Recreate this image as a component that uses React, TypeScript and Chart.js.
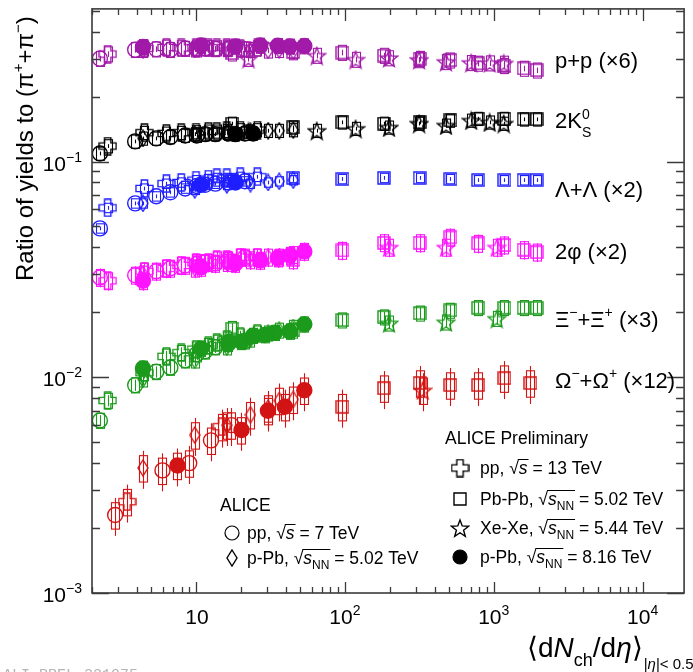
import React, { useEffect, useRef } from 'react';
import { Chart, registerables } from 'chart.js';
Chart.register(...registerables);

const FONT = '"Liberation Sans", Arial, Helvetica, sans-serif';

// ---------- multiplicity <dNch/deta> per collision system ----------
const ppSevenMult = [2.26, 3.9, 5.4, 6.72, 8.45, 10.1, 11.5, 13.5, 16.5, 21.3];
const ppSevenMultOmega = [2.86, 5.95, 9.0, 12.6, 17.3];
const ppThirteenMult = [2.55, 4.5, 6.32, 7.95, 10.0, 12.1, 13.8, 16.1, 19.8, 25.8];
const ppThirteenMultOmega = [3.44, 14.9];
const pPbFiveMult = [4.4, 9.8, 16.1, 23.2, 30.5, 36.2, 45.0];
const pPbEightMult = [4.4, 10.8, 18.4, 27.0, 35.4, 42.6, 53.4];
const pPbEightMultK = [18.4, 24.2];
const pPbEightMultLambda = [10.8, 18.4];
const pPbEightMultXi = [4.4, 10.8, 16.5, 20.2, 24.2, 29.0, 33.8, 42.6, 53.4];
const pPbEightMultOmega = [7.5, 20.2, 30.4, 39.5, 53.4];
const pbPbMult = [17.5, 44.9, 96.3, 183, 318, 512, 786, 1180, 1587, 1943];
const pbPbMultOmega = [96.3, 183, 318, 512, 786, 1180, 1764];
const xeXeMult = [22.5, 64.7, 118, 198, 315, 478, 706, 939, 1167];
const xeXeMultPhiXi = [198, 478, 1047];
const xeXeMultOmega = [333];

// ---------- ratios to (pi+ + pi-) (already scaled) ----------
const protonPP7 = [0.3, 0.33, 0.332, 0.33, 0.334, 0.332, 0.335, 0.333, 0.334, 0.332];
const protonPP13 = [0.315, 0.335, 0.338, 0.336, 0.338, 0.337, 0.336, 0.338, 0.335, 0.336];
const protonPPb5 = [0.33, 0.332, 0.333, 0.33, 0.328, 0.33, 0.326];
const protonPPb8 = [0.34, 0.345, 0.342, 0.345, 0.344, 0.342, 0.343];
const protonPbPb = [0.318, 0.322, 0.32, 0.31, 0.3, 0.295, 0.285, 0.278, 0.27, 0.265];
const protonXeXe = [0.3, 0.31, 0.297, 0.302, 0.296, 0.29, 0.287, 0.286, 0.285];

const kaonPP7 = [0.109, 0.124, 0.128, 0.13, 0.132, 0.132, 0.134, 0.134, 0.135, 0.135];
const kaonPP13 = [0.118, 0.136, 0.135, 0.136, 0.137, 0.138, 0.138, 0.139, 0.14, 0.14];
const kaonPPb5 = [0.128, 0.134, 0.136, 0.138, 0.139, 0.139, 0.14];
const kaonPPb8 = [0.134, 0.135];
const kaonPbPb = [0.15, 0.144, 0.152, 0.15, 0.152, 0.155, 0.158, 0.158, 0.157, 0.157];
const kaonXeXe = [0.138, 0.139, 0.142, 0.144, 0.15, 0.147, 0.155, 0.152, 0.15];

const lambdaPP7 = [0.049, 0.064, 0.069, 0.072, 0.075, 0.077, 0.078, 0.079, 0.08, 0.081];
const lambdaPP13 = [0.061, 0.075, 0.079, 0.08, 0.082, 0.083, 0.084, 0.084, 0.085, 0.085];
const lambdaPPb5 = [0.064, 0.074, 0.078, 0.079, 0.08, 0.081, 0.082];
const lambdaPPb8 = [0.078, 0.08];
const lambdaPbPb = [0.082, 0.084, 0.083, 0.084, 0.084, 0.083, 0.082, 0.082, 0.082, 0.082];

const phiPP7 = [0.029, 0.0297, 0.031, 0.032, 0.033, 0.0335, 0.034, 0.0337, 0.035, 0.036];
const phiPP13 = [0.028, 0.031, 0.032, 0.033, 0.034, 0.034, 0.035, 0.035, 0.036, 0.036];
const phiPPb5 = [0.03, 0.032, 0.034, 0.035, 0.036, 0.036, 0.037];
const phiPPb8 = [0.028, 0.0323, 0.0337, 0.0348, 0.0357, 0.0367, 0.0383];
const phiPbPb = [0.034, 0.035, 0.0387, 0.042, 0.042, 0.0445, 0.0417, 0.041, 0.039, 0.038];
const phiXeXe = [0.04, 0.04, 0.04];

const xiPP7 = [0.0063, 0.0092, 0.0106, 0.0111, 0.012, 0.0128, 0.0132, 0.0138, 0.0143, 0.0147];
const xiPP13 = [0.0078, 0.0105, 0.0125, 0.013, 0.0135, 0.014, 0.0145, 0.015, 0.0155, 0.016];
const xiPPb5 = [0.0098, 0.012, 0.0138, 0.015, 0.016, 0.0165, 0.017];
const xiPPb8 = [0.011, 0.0136, 0.0145, 0.0146, 0.0156, 0.0157, 0.0161, 0.0163, 0.0176];
const xiPbPb = [0.0168, 0.0165, 0.0184, 0.019, 0.0198, 0.0204, 0.021, 0.021, 0.021, 0.021];
const xiXeXe = [0.0178, 0.018, 0.0187];

const omegaPP7 = [0.0023, 0.0037, 0.004, 0.0051, 0.006];
const omegaPP13 = [0.00265, 0.0059];
const omegaPPb5 = [0.0038, 0.0054, 0.006, 0.0067, 0.0072, 0.0078, 0.0079];
const omegaPPb8 = [0.0039, 0.0057, 0.007, 0.0073, 0.0087];
const omegaPbPb = [0.0073, 0.0089, 0.0094, 0.0092, 0.0092, 0.0099, 0.0094];
const omegaXeXe = [0.0087];

// relative uncertainties per species (systematic box, statistical bar)
const sysFraction = [0.08, 0.07, 0.05, 0.09, 0.08, 0.14];
const statFraction = [0.03, 0.02, 0.02, 0.1, 0.06, 0.2];

const speciesColors = ['#a11aa8', '#000000', '#1f1fff', '#ff14ff', '#1c9a1c', '#d31414'];
const systemShapes = ['circle', 'diamond', 'cross', 'square', 'star', 'filled'];

const xTickValues = [10, 100, 1000, 10000];
const yTickValues = [0.001, 0.01, 0.1];

type Pair = [number[], number[]] | null;
const table: Pair[][] = [
  [[ppSevenMult, protonPP7], [pPbFiveMult, protonPPb5], [ppThirteenMult, protonPP13], [pbPbMult, protonPbPb], [xeXeMult, protonXeXe], [pPbEightMult, protonPPb8]],
  [[ppSevenMult, kaonPP7], [pPbFiveMult, kaonPPb5], [ppThirteenMult, kaonPP13], [pbPbMult, kaonPbPb], [xeXeMult, kaonXeXe], [pPbEightMultK, kaonPPb8]],
  [[ppSevenMult, lambdaPP7], [pPbFiveMult, lambdaPPb5], [ppThirteenMult, lambdaPP13], [pbPbMult, lambdaPbPb], null, [pPbEightMultLambda, lambdaPPb8]],
  [[ppSevenMult, phiPP7], [pPbFiveMult, phiPPb5], [ppThirteenMult, phiPP13], [pbPbMult, phiPbPb], [xeXeMultPhiXi, phiXeXe], [pPbEightMult, phiPPb8]],
  [[ppSevenMult, xiPP7], [pPbFiveMult, xiPPb5], [ppThirteenMult, xiPP13], [pbPbMult, xiPbPb], [xeXeMultPhiXi, xiXeXe], [pPbEightMultXi, xiPPb8]],
  [[ppSevenMultOmega, omegaPP7], [pPbFiveMult, omegaPPb5], [ppThirteenMultOmega, omegaPP13], [pbPbMultOmega, omegaPbPb], [xeXeMultOmega, omegaXeXe], [pPbEightMultOmega, omegaPPb8]],
];

const MARKER_DIMS: Record<string, [number, number]> = {
  cross: [19, 19], star: [20, 20], diamond: [12, 18], square: [14, 14],
};

function makeMarker(shape: string, color: string): HTMLCanvasElement {
  const [w, h] = MARKER_DIMS[shape];
  const c = document.createElement('canvas');
  c.width = w; c.height = h;
  const g = c.getContext('2d')!;
  g.strokeStyle = color;
  g.lineWidth = 1.4;
  const cx = w / 2, cy = h / 2;
  g.beginPath();
  if (shape === 'square') {
    g.rect(1, 1, w - 2, h - 2);
  } else if (shape === 'diamond') {
    g.moveTo(cx, 1); g.lineTo(w - 1, cy); g.lineTo(cx, h - 1); g.lineTo(1, cy); g.closePath();
  } else if (shape === 'cross') {
    const r = (w - 2) / 2, a = r * 0.37;
    const pts = [[-a, -r], [a, -r], [a, -a], [r, -a], [r, a], [a, a], [a, r], [-a, r], [-a, a], [-r, a], [-r, -a], [-a, -a]];
    pts.forEach(([px, py], i) => (i ? g.lineTo(cx + px, cy + py) : g.moveTo(cx + px, cy + py)));
    g.closePath();
  } else if (shape === 'star') {
    const R = (w - 2) / 2, r = R * 0.42;
    for (let i = 0; i < 10; i++) {
      const ang = -Math.PI / 2 + (i * Math.PI) / 5;
      const rr = i % 2 ? r : R;
      const px = cx + rr * Math.cos(ang), py = cy + 1 + rr * Math.sin(ang);
      i ? g.lineTo(px, py) : g.moveTo(px, py);
    }
    g.closePath();
  }
  g.stroke();
  return c;
}

type Part = { t: string; sup?: boolean; sub?: boolean; it?: boolean; stay?: boolean; over?: boolean };

function drawParts(ctx: CanvasRenderingContext2D, x: number, y: number, parts: Part[], size: number, scriptSize: number, supDy: number, subDy: number, measureOnly = false) {
  let cx = x;
  for (const p of parts) {
    const fs = p.sup || p.sub ? scriptSize : size;
    ctx.font = `${p.it ? 'italic ' : ''}${fs}px ${FONT}`;
    const dy = p.sup ? -supDy : p.sub ? subDy : 0;
    const w = ctx.measureText(p.t).width;
    if (!measureOnly) {
      ctx.fillText(p.t, cx, y + dy);
      if (p.over) {
        ctx.save();
        ctx.lineWidth = 1;
        ctx.beginPath();
        const oy = Math.round(y - size * 0.86) + 0.5;
        ctx.moveTo(cx - 1, oy); ctx.lineTo(cx + w + 1, oy); ctx.stroke();
        ctx.restore();
      }
    }
    if (!p.stay) cx += w;
  }
  return cx - x;
}

function sqrtS(nn: boolean): Part[] {
  const p: Part[] = [{ t: '√' }, { t: 's', it: true, over: true }];
  if (nn) p.push({ t: 'NN', sub: true, over: true });
  return p;
}

const App: React.FC = () => {
  const ref = useRef<HTMLCanvasElement>(null);
  useEffect(() => {
    document.body.style.margin = '0';
    const canvas = ref.current!;
    const markers: Record<string, HTMLCanvasElement> = {};
    const getMarker = (shape: string, color: string) => {
      const k = shape + color;
      if (!markers[k]) markers[k] = makeMarker(shape, color);
      return markers[k];
    };

    const datasets: any[] = [];
    table.forEach((row, si) => {
      const color = speciesColors[si];
      row.forEach((pair, k) => {
        if (!pair) return;
        const [xs, ys] = pair;
        const shape = systemShapes[k];
        const ds: any = {
          label: `s${si}-${shape}`,
          data: xs.map((x, i) => ({ x, y: ys[i] })),
          showLine: false,
          borderColor: color,
          borderWidth: 1.4,
          sysFrac: sysFraction[si],
          statFrac: statFraction[si],
        };
        if (shape === 'circle') {
          Object.assign(ds, { pointStyle: 'circle', pointRadius: 7.5, backgroundColor: 'rgba(0,0,0,0)' });
        } else if (shape === 'filled') {
          Object.assign(ds, { pointStyle: 'circle', pointRadius: 7.5, backgroundColor: color });
        } else {
          Object.assign(ds, { pointStyle: getMarker(shape, color), pointRadius: 7, backgroundColor: color });
        }
        datasets.push(ds);
      });
    });

    const rootPlugin = {
      id: 'rootStyle',
      beforeDatasetsDraw(chart: any) {
        const ctx = chart.ctx as CanvasRenderingContext2D;
        const ys = chart.scales.y;
        chart.data.datasets.forEach((ds: any, i: number) => {
          const meta = chart.getDatasetMeta(i);
          ctx.save();
          ctx.strokeStyle = ds.borderColor;
          ctx.lineWidth = 1.1;
          meta.data.forEach((el: any, j: number) => {
            const v = ds.data[j].y;
            const x = Math.round(el.x) + 0.5;
            const top = ys.getPixelForValue(v * (1 + ds.sysFrac));
            const bot = ys.getPixelForValue(v * (1 - ds.sysFrac));
            ctx.strokeRect(x - 4, top, 8, bot - top);
            const st = ys.getPixelForValue(v * (1 + ds.statFrac));
            const sb = ys.getPixelForValue(v * (1 - ds.statFrac));
            ctx.beginPath(); ctx.moveTo(x, st); ctx.lineTo(x, sb); ctx.stroke();
          });
          ctx.restore();
        });
      },
      afterDraw(chart: any) {
        const ctx = chart.ctx as CanvasRenderingContext2D;
        const { left, right, top, bottom } = chart.chartArea;
        const xs = chart.scales.x, ys = chart.scales.y;
        ctx.save();
        // frame
        ctx.strokeStyle = '#3a3a3a';
        ctx.lineWidth = 1.6;
        ctx.strokeRect(left, top, right - left, bottom - top);
        ctx.lineWidth = 1.3;
        ctx.beginPath();
        for (let d = 0; d <= 4; d++) {
          for (let m = 1; m <= 9; m++) {
            const v = m * Math.pow(10, d);
            if (v < xs.min || v > xs.max) continue;
            const px = Math.round(xs.getPixelForValue(v)) + 0.5;
            const lb = m === 1 ? 11 : 6, lt = m === 1 ? 12 : 6;
            ctx.moveTo(px, bottom); ctx.lineTo(px, bottom - lb);
            ctx.moveTo(px, top); ctx.lineTo(px, top + lt);
          }
        }
        for (let d = -3; d <= -1; d++) {
          for (let m = 1; m <= 9; m++) {
            const v = m * Math.pow(10, d);
            if (v < ys.min * 0.999 || v > ys.max) continue;
            const py = Math.round(ys.getPixelForValue(v)) + 0.5;
            const l = m === 1 ? 17 : 8;
            ctx.moveTo(left, py); ctx.lineTo(left + l, py);
            ctx.moveTo(right, py); ctx.lineTo(right - l, py);
          }
        }
        ctx.stroke();

        ctx.fillStyle = '#000';
        ctx.strokeStyle = '#000';
        ctx.textBaseline = 'alphabetic';
        ctx.textAlign = 'left';
        // x tick labels
        xTickValues.forEach((v) => {
          const e = Math.round(Math.log10(v));
          const parts: Part[] = e === 1 ? [{ t: '10' }] : [{ t: '10' }, { t: String(e), sup: true }];
          const w = drawParts(ctx, 0, 0, parts, 21, 14, 9, 0, true);
          const px = xs.getPixelForValue(v);
          drawParts(ctx, px - w / 2 + (e === 1 ? 1 : 0), 624, parts, 21, 14, 9, 0);
        });
        // y tick labels
        yTickValues.forEach((v) => {
          const e = Math.round(Math.log10(v));
          const parts: Part[] = [{ t: '10' }, { t: '\u2212' + String(-e), sup: true }];
          const w = drawParts(ctx, 0, 0, parts, 21, 14, 9, 0, true);
          const py = ys.getPixelForValue(v);
          drawParts(ctx, 82 - w, py + 9, parts, 21, 14, 9, 0);
        });

        // axis titles
        ctx.save();
        ctx.translate(33, 281);
        ctx.rotate(-Math.PI / 2);
        drawParts(ctx, 0, 0, [
          { t: 'Ratio of yields to (π' }, { t: '+', sup: true }, { t: '+π' }, { t: '\u2212', sup: true }, { t: ')' },
        ], 24, 15, 10, 0);
        ctx.restore();
        const xEnd = drawParts(ctx, 527, 657, [
          { t: '⟨d' }, { t: 'N', it: true }, { t: 'ch', sub: true }, { t: '/d' }, { t: 'η', it: true }, { t: '⟩' },
        ], 28, 18, 0, 9);
        drawParts(ctx, 527 + xEnd + 1, 657, [
          { t: '|', sub: true }, { t: 'η', sub: true, it: true }, { t: '|< 0.5', sub: true },
        ], 28, 15, 0, 12);

        // species labels
        const S = 22, s2 = 14;
        drawParts(ctx, 555, 68, [{ t: 'p+p (×6)' }], S, s2, 9, 8);
        drawParts(ctx, 555, 128, [{ t: '2K' }, { t: '0', sup: true, stay: true }, { t: 'S', sub: true }], S, s2, 9, 9);
        drawParts(ctx, 555, 197, [{ t: 'Λ+Λ (×2)' }], S, s2, 9, 8);
        drawParts(ctx, 555, 259, [{ t: '2φ (×2)' }], S, s2, 9, 8);
        drawParts(ctx, 555, 327, [{ t: 'Ξ' }, { t: '\u2212', sup: true }, { t: '+Ξ' }, { t: '+', sup: true }, { t: ' (×3)' }], S, s2, 10, 8);
        drawParts(ctx, 555, 388, [{ t: 'Ω' }, { t: '\u2212', sup: true }, { t: '+Ω' }, { t: '+', sup: true }, { t: ' (×12)' }], S, s2, 10, 8);

        // legends
        const L = 17.5, l2 = 12;
        drawParts(ctx, 220, 511, [{ t: 'ALICE' }], L, l2, 7, 5);
        const drawCircle = (x: number, y: number, fill: boolean) => {
          ctx.beginPath(); ctx.lineWidth = 1.2; ctx.arc(x, y, 7, 0, Math.PI * 2);
          if (fill) ctx.fill(); ctx.stroke();
        };
        drawCircle(232, 533, false);
        drawParts(ctx, 247, 539, [{ t: 'pp, ' }, ...sqrtS(false), { t: ' = 7 TeV' }], L, l2, 7, 5);
        ctx.drawImage(getMarker('diamond', '#000'), 232 - 6, 558 - 9);
        drawParts(ctx, 247, 564, [{ t: 'p-Pb, ' }, ...sqrtS(true), { t: ' = 5.02 TeV' }], L, l2, 7, 5);

        drawParts(ctx, 445, 444, [{ t: 'ALICE Preliminary' }], L, l2, 7, 5);
        ctx.drawImage(getMarker('cross', '#000'), 460 - 9.5, 468 - 9.5);
        drawParts(ctx, 480, 474, [{ t: 'pp, ' }, ...sqrtS(false), { t: ' = 13 TeV' }], L, l2, 7, 5);
        ctx.drawImage(getMarker('square', '#000'), 460 - 7, 499 - 7);
        drawParts(ctx, 480, 505, [{ t: 'Pb-Pb, ' }, ...sqrtS(true), { t: ' = 5.02 TeV' }], L, l2, 7, 5);
        ctx.drawImage(getMarker('star', '#000'), 460 - 10, 528 - 10);
        drawParts(ctx, 480, 534, [{ t: 'Xe-Xe, ' }, ...sqrtS(true), { t: ' = 5.44 TeV' }], L, l2, 7, 5);
        drawCircle(460, 557, true);
        drawParts(ctx, 480, 563, [{ t: 'p-Pb, ' }, ...sqrtS(true), { t: ' = 8.16 TeV' }], L, l2, 7, 5);

        // watermark
        ctx.fillStyle = '#b4b4b4';
        ctx.font = '15px "Liberation Mono", "DejaVu Sans Mono", monospace';
        ctx.fillText('ALI-PREL-321075', 3, 679);
        ctx.restore();
      },
    };

    const chart = new Chart(canvas, {
      type: 'scatter',
      data: { datasets },
      options: {
        animation: false,
        responsive: false,
        devicePixelRatio: 1,
        layout: { padding: { left: 92, top: 8, right: 2, bottom: 79 } },
        scales: {
          x: { type: 'logarithmic', min: 2, max: 19000, display: false },
          y: { type: 'logarithmic', min: 0.001, max: 0.51, display: false },
        },
        plugins: { legend: { display: false }, tooltip: { enabled: false } },
      } as any,
      plugins: [rootPlugin as any],
    });
    return () => chart.destroy();
  }, []);
  return <canvas ref={ref} width={693} height={672} style={{ display: 'block', width: 693, height: 672 }} />;
};

export default App;
